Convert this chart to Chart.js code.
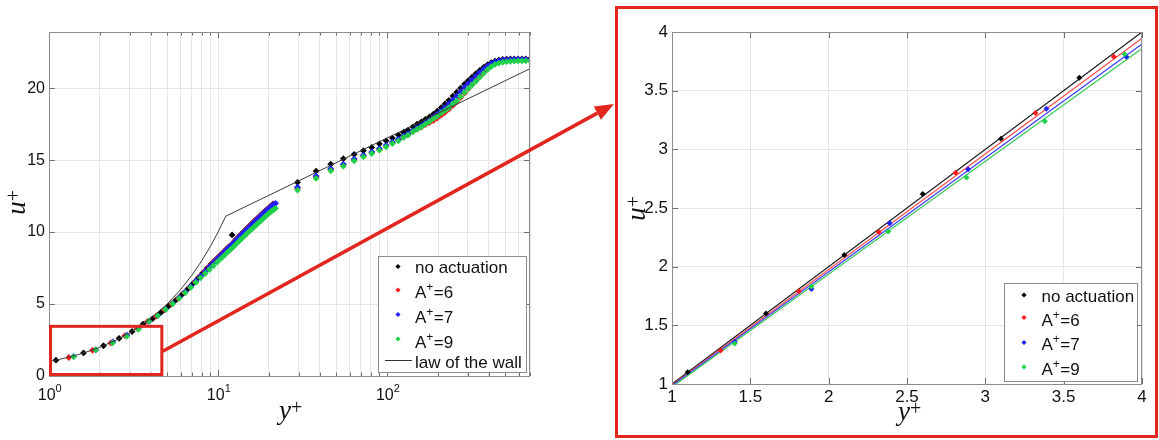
<!DOCTYPE html>
<html><head><meta charset="utf-8">
<script src="https://cdn.jsdelivr.net/npm/chart.js@4.4.1/dist/chart.umd.min.js"></script>
<style>
html,body{margin:0;padding:0;background:#fff;}
body{width:1159px;height:440px;position:relative;overflow:hidden;}
#leftWrap{position:absolute;left:0;top:0;width:616px;height:440px;}
#rightWrap{position:absolute;left:615px;top:6px;width:543px;height:432px;box-sizing:border-box;border:3px solid #e2261e;background:#fff;}
canvas{display:block;}
</style></head><body>
<div id="leftWrap"><canvas id="left" width="616" height="440"></canvas></div>
<div id="rightWrap"><canvas id="right" width="537" height="426"></canvas></div>
<script>
// ---------------- data ----------------
const seriesLabels = ['no actuation', 'A⁺=6', 'A⁺=7', 'A⁺=9'];
const lawLabel = 'law of the wall';
const xTitle = 'y⁺';
const yTitle = 'u⁺';

// tick values
const leftXTicks = [1,2,3,4,5,6,7,8,9,10,20,30,40,50,60,70,80,90,100,200,300,400,500,600,700];
const leftXMajor = [1,10,100];
const leftXLabels = ['10⁰','10¹','10²'];
const leftYTicks = [0,5,10,15,20];
const rightXTicks = [1,1.5,2,2.5,3,3.5,4];
const rightYTicks = [1,1.5,2,2.5,3,3.5,4];

// shared y+ positions of outer measurement points
const midYPlus = [29.5,38,46.4,55.1,63.8,72.4,81.1,90,98.6,107.5,116.6,125,133,142,150.6,159.6,168.5,178];
const outerYPlus = [188,198,209,220,232,245,258,272,287,302,318,335,353,372,392,413,435,458,483,509,536,565,595,627,660,700];

// no actuation
const noActNearY = [1.1,1.6,2.1,2.6,3.1,3.6,4.1,4.6,5.1,5.6,6.1,6.6,7.1,7.6,8.1,8.6,9.1,9.6,10.1,10.6,11.1,11.6,12.1,12.6,13.1,13.6,14.1,14.6,15.1,15.6,16.1,16.6,17.1,17.6,18.1,18.6,19.1,19.6,20.1,20.6,21.1];
const noActNearU = [1.10,1.60,2.10,2.62,3.09,3.61,3.98,4.42,4.85,5.25,5.65,6.03,6.42,6.8,7.15,7.48,7.78,8.05,8.3,8.54,8.77,8.99,9.80,9.42,9.62,9.82,10.0,10.18,10.35,10.52,10.67,10.82,10.96,11.1,11.23,11.36,11.48,11.6,11.72,11.83,11.94];
const noActMidU = [13.45,14.24,14.72,15.1,15.4,15.65,15.88,16.13,16.34,16.53,16.74,16.92,17.08,17.31,17.5,17.66,17.83,18.0];
const noActOuterU = [18.2,18.4,18.65,18.9,19.15,19.45,19.72,20.0,20.28,20.52,20.76,21.0,21.23,21.44,21.62,21.77,21.88,21.95,22.0,22.02,22.03,22.03,22.03,22.03,22.03,22.03];

// A+=6
const a6NearY = [1.31,1.81,2.32,2.81,3.32,3.82,4.32,4.82,5.32,5.82,6.32,6.82,7.32,7.82,8.32,8.82,9.32,9.82,10.32,10.82,11.32,11.82,12.32,12.82,13.32,13.82,14.32,14.82,15.32,15.82,16.32,16.82,17.32,17.82,18.32,18.82,19.32,19.82,20.32,20.82,21.32];
const a6NearU = [1.285,1.79,2.295,2.80,3.31,3.79,4.17,4.6,5.02,5.42,5.81,6.2,6.57,6.93,7.27,7.6,7.89,8.15,8.38,8.62,8.84,9.06,9.28,9.49,9.69,9.88,10.06,10.23,10.4,10.56,10.71,10.86,11.0,11.13,11.26,11.39,11.51,11.63,11.75,11.86,11.96];
const a6MidU = [13.05,13.85,14.35,14.67,15.02,15.29,15.52,15.75,15.98,16.2,16.4,16.6,16.78,16.98,17.15,17.3,17.46,17.6];
const a6OuterU = [17.75,17.92,18.12,18.32,18.55,18.8,19.05,19.35,19.65,19.95,20.25,20.55,20.85,21.12,21.38,21.6,21.75,21.85,21.92,21.95,21.97,21.98,21.98,21.98,21.98,21.98];

// A+=7
const a7NearY = [1.40,1.89,2.39,2.89,3.39,3.90,4.40,4.90,5.40,5.90,6.40,6.90,7.40,7.90,8.40,8.90,9.40,9.90,10.40,10.90,11.40,11.90,12.40,12.90,13.40,13.90,14.40,14.90,15.40,15.90,16.40,16.90,17.40,17.90,18.40,18.90,19.40,19.90,20.40,20.90,21.40,21.90];
const a7NearU = [1.36,1.81,2.37,2.83,3.345,3.79,4.2,4.63,5.05,5.45,5.85,6.23,6.6,6.95,7.28,7.6,7.88,8.14,8.38,8.62,8.84,9.06,9.27,9.48,9.68,9.87,10.05,10.22,10.38,10.54,10.69,10.84,10.98,11.11,11.24,11.37,11.49,11.61,11.73,11.84,11.93,12.0];
const a7MidU = [13.12,13.9,14.4,14.72,15.07,15.34,15.57,15.8,16.03,16.25,16.45,16.66,16.83,17.05,17.23,17.4,17.58,17.76];
const a7OuterU = [18.0,18.2,18.42,18.65,18.9,19.18,19.45,19.75,20.05,20.32,20.58,20.83,21.08,21.32,21.52,21.7,21.82,21.9,21.95,21.97,21.98,21.99,21.99,21.99,21.99,21.99];

// A+=9
const a9NearY = [1.40,1.89,2.38,2.88,3.38,3.89,4.39,4.89,5.39,5.89,6.39,6.89,7.39,7.89,8.39,8.89,9.39,9.89,10.39,10.89,11.39,11.89,12.39,12.89,13.39,13.89,14.39,14.89,15.39,15.89,16.39,16.89,17.39,17.89,18.39,18.89,19.39,19.89,20.39,20.89,21.39,21.89];
const a9NearU = [1.345,1.83,2.30,2.76,3.24,3.81,4.2,4.62,5.02,5.4,5.78,6.15,6.5,6.82,7.12,7.4,7.66,7.92,8.15,8.38,8.6,8.8,9.0,9.2,9.4,9.58,9.75,9.92,10.08,10.23,10.37,10.51,10.65,10.78,10.91,11.04,11.16,11.28,11.39,11.49,11.57,11.65];
const a9MidU = [12.92,13.73,14.26,14.58,14.95,15.23,15.46,15.69,15.92,16.15,16.34,16.57,16.74,16.97,17.15,17.31,17.5,17.68];
const a9OuterU = [17.88,18.05,18.28,18.45,18.65,18.9,19.12,19.42,19.7,19.97,20.22,20.48,20.75,21.02,21.28,21.5,21.65,21.74,21.8,21.84,21.86,21.88,21.89,21.9,21.9,21.9];

// law of the wall
const lawYPlus = [1,1.25,1.5,1.75,2,2.5,3,3.5,4,5,6,7,8,9,10,11.1,700];
const lawUPlus = [1,1.25,1.5,1.75,2,2.5,3,3.5,4,5,6,7,8,9,10,11.1,21.35];

// linear fits in the zoomed view
const fitYPlus = [1,4];
const fitNoActU = [1,4];
const fitA6U = [0.99,3.946];
const fitA7U = [0.985,3.898];
const fitA9U = [0.975,3.86];

// zoom window (red box) extent
const boxYPlus = [1,4.65];
const boxUPlus = [0,3.45];
const leftYMax = 23.9;
const leftXMax = 700;

// ---------------- styles ----------------
const COLORS = ['#000000','#ff1a1a','#1f1fff','#1fd14a'];
const LINECOLORS = ['#1a1a1a','#ff4a4a','#3a3aff','#38c85a'];
const RED = '#e2261e';
const SANS = "'Liberation Sans', Arial, sans-serif";
const SERIF = "'Liberation Serif', 'Times New Roman', serif";
const SUPMAP = {'⁺':'+','⁰':'0','¹':'1','²':'2','³':'3'};

function pts(xs, ys){ return xs.map((x,i)=>({x:x, y:ys[i]})); }
function full(near, nearU, midU, outerU){
  return {x: near.concat(midYPlus, outerYPlus), y: nearU.concat(midU, outerU)};
}
const allSeries = [
  full(noActNearY, noActNearU, noActMidU, noActOuterU),
  full(a6NearY, a6NearU, a6MidU, a6OuterU),
  full(a7NearY, a7NearU, a7MidU, a7OuterU),
  full(a9NearY, a9NearU, a9MidU, a9OuterU)
];

function drawRich(ctx, text, x, y, baseFont, supFont, rise, align){
  const runs = [];
  for (const ch of text){
    const sup = SUPMAP[ch] !== undefined;
    const t = sup ? SUPMAP[ch] : ch;
    if (runs.length && runs[runs.length-1].sup === sup) runs[runs.length-1].t += t;
    else runs.push({t:t, sup:sup});
  }
  let w = 0;
  runs.forEach(r=>{ ctx.font = r.sup?supFont:baseFont; r.w = ctx.measureText(r.t).width + (r.sup?0.5:0); w += r.w; });
  let cx = align === 'center' ? x - w/2 : x;
  ctx.textAlign = 'left'; ctx.textBaseline = 'alphabetic';
  runs.forEach(r=>{ ctx.font = r.sup?supFont:baseFont; ctx.fillText(r.t, cx, r.sup ? y - rise : y); cx += r.w; });
}

function drawMarker(ctx, x, y, r, color){
  ctx.fillStyle = color;
  ctx.beginPath();
  ctx.moveTo(x, y-r); ctx.lineTo(x+r, y); ctx.lineTo(x, y+r); ctx.lineTo(x-r, y); ctx.closePath();
  ctx.fill();
}

function drawFrame(chart, xTicks, yTicks, majorX){
  const {ctx, chartArea:a, scales} = chart;
  ctx.save();
  ctx.strokeStyle = '#6e6e6e'; ctx.lineWidth = 1;
  ctx.beginPath();
  xTicks.forEach(v=>{
    const px = Math.round(scales.x.getPixelForValue(v)) + 0.5;
    const L = majorX(v) ? 6 : 3.5;
    ctx.moveTo(px, a.bottom); ctx.lineTo(px, a.bottom - L);
    ctx.moveTo(px, a.top); ctx.lineTo(px, a.top + L);
  });
  yTicks.forEach(v=>{
    const py = Math.round(scales.y.getPixelForValue(v)) + 0.5;
    ctx.moveTo(a.left, py); ctx.lineTo(a.left + 6, py);
    ctx.moveTo(a.right, py); ctx.lineTo(a.right - 6, py);
  });
  ctx.stroke();
  ctx.strokeStyle = '#8c8c8c';
  ctx.strokeRect(Math.round(a.left)+0.5, Math.round(a.top)+0.5, Math.round(a.right-a.left)-1, Math.round(a.bottom-a.top));
  ctx.restore();
}

function drawLegend(ctx, box, rows, markerX, textX, withLaw, lawRow){
  ctx.save();
  ctx.fillStyle = '#ffffff';
  ctx.fillRect(box.x, box.y, box.w, box.h);
  ctx.strokeStyle = '#8c8c8c'; ctx.lineWidth = 1;
  ctx.strokeRect(box.x+0.5, box.y+0.5, box.w, box.h);
  rows.forEach((r,i)=>{
    drawMarker(ctx, markerX, r.marker, 2.6, COLORS[i]);
    ctx.fillStyle = '#111';
    drawRich(ctx, seriesLabels[i], textX, r.base, '17px '+SANS, '12px '+SANS, 7, 'left');
  });
  if (withLaw){
    ctx.strokeStyle = '#333'; ctx.lineWidth = 1;
    ctx.beginPath(); ctx.moveTo(lawRow.x0, lawRow.line+0.5); ctx.lineTo(lawRow.x1, lawRow.line+0.5); ctx.stroke();
    ctx.fillStyle = '#111';
    drawRich(ctx, lawLabel, textX, lawRow.base, '17px '+SANS, '12px '+SANS, 7, 'left');
  }
  ctx.restore();
}

function drawTitles(ctx, xt, yt){
  ctx.save();
  ctx.fillStyle = '#111';
  drawRich(ctx, xTitle, xt.x, xt.y, 'italic 27px '+SERIF, '20px '+SERIF, 5, 'center');
  ctx.translate(yt.x, yt.y); ctx.rotate(-Math.PI/2);
  drawRich(ctx, yTitle, 0, 0, 'italic 27px '+SERIF, '20px '+SERIF, 5, 'center');
  ctx.restore();
}

function scatterDatasets(seriesList, radius){
  return seriesList.map((s,i)=>({
    label: seriesLabels[i], data: pts(s.x, s.y), showLine:false,
    pointStyle:'rectRot', pointRadius: radius, pointBorderWidth:0,
    backgroundColor: COLORS[i], borderColor: COLORS[i], order: 4 - i
  }));
}

const commonGrid = {color:'#e6e6e6', lineWidth:1, drawTicks:false};

// ---------------- left chart ----------------
const leftDeco = {
  id:'leftDeco',
  afterDraw(chart){
    const {ctx, scales, chartArea} = chart;
    drawFrame(chart, leftXTicks, leftYTicks, v=>leftXMajor.includes(v));
    // decade tick labels with raised exponents
    ctx.save();
    ctx.fillStyle = '#111';
    leftXMajor.forEach((v,k)=>{
      drawRich(ctx, leftXLabels[k], scales.x.getPixelForValue(v) + 1, chartArea.bottom + 24, '16px '+SANS, '11px '+SANS, 8, 'center');
    });
    ctx.restore();
    // zoom box
    const x0 = scales.x.getPixelForValue(boxYPlus[0]), x1 = scales.x.getPixelForValue(boxYPlus[1]);
    const y0 = scales.y.getPixelForValue(boxUPlus[0]), y1 = scales.y.getPixelForValue(boxUPlus[1]);
    ctx.save();
    ctx.strokeStyle = RED; ctx.lineWidth = 3;
    ctx.strokeRect(x0+1.5, y1, x1-x0-1.5, y0-1.5-y1);
    // arrow
    const sx = x1+1, sy = (y0+y1)/2, ex = 614, ey = 104;
    const ang = Math.atan2(ey-sy, ex-sx);
    const hl = 19, hw = 7.5;
    const bx = ex - hl*Math.cos(ang), by = ey - hl*Math.sin(ang);
    ctx.lineWidth = 3.5; ctx.lineCap = 'butt';
    ctx.beginPath(); ctx.moveTo(sx, sy); ctx.lineTo(bx, by); ctx.stroke();
    ctx.fillStyle = RED;
    ctx.beginPath();
    ctx.moveTo(ex, ey);
    ctx.lineTo(bx + hw*Math.sin(ang), by - hw*Math.cos(ang));
    ctx.lineTo(bx - hw*Math.sin(ang), by + hw*Math.cos(ang));
    ctx.closePath(); ctx.fill();
    ctx.restore();
    drawLegend(ctx, {x:378, y:256, w:148, h:116},
      [{marker:266.5, base:273},{marker:290, base:298},{marker:314.5, base:323},{marker:339, base:348}],
      398, 415, true, {x0:385, x1:412, line:360, base:368});
    drawTitles(ctx, {x:291, y:419}, {x:25, y:202});
  }
};

new Chart(document.getElementById('left'), {
  type:'scatter',
  data:{ datasets: [
    {label: lawLabel, data: pts(lawYPlus, lawUPlus), showLine:true, pointRadius:0, borderColor:'#3a3a3a', borderWidth:1, order:0}
  ].concat(scatterDatasets(allSeries, 3.4)) },
  options:{
    responsive:false, animation:false, events:[],
    layout:{padding:{left:0, right:86, top:32, bottom:0}},
    plugins:{legend:{display:false}, tooltip:{enabled:false}},
    scales:{
      x:{type:'logarithmic', min:1, max:leftXMax,
        afterBuildTicks: s=>{ s.ticks = leftXTicks.map(v=>({value:v})); },
        afterFit: s=>{ s.height = 64; },
        grid: commonGrid, border:{display:false},
        ticks:{display:false, autoSkip:false, maxRotation:0, minRotation:0}},
      y:{type:'linear', min:0, max:leftYMax,
        afterBuildTicks: s=>{ s.ticks = leftYTicks.map(v=>({value:v})); },
        afterFit: s=>{ s.width = 49; },
        grid: commonGrid, border:{display:false},
        ticks:{padding:4, color:'#111', font:{family:SANS, size:16}, callback: v=>String(v)}}
    }
  },
  plugins:[leftDeco]
});

// ---------------- right chart ----------------
const fits = [fitNoActU, fitA6U, fitA7U, fitA9U];
const zoomSeries = allSeries.map(s=>{
  const xs = [], ys = [];
  s.x.forEach((x,i)=>{ if (x >= 1 && x <= 4 && s.y[i] >= 1 && s.y[i] <= 4){ xs.push(x); ys.push(s.y[i]); } });
  return {x:xs, y:ys};
});
const rightDeco = {
  id:'rightDeco',
  afterDraw(chart){
    const {ctx} = chart;
    drawFrame(chart, rightXTicks, rightYTicks, ()=>true);
    drawLegend(ctx, {x:386, y:274, w:133, h:98},
      [{marker:286, base:292.5},{marker:308.5, base:316.5},{marker:333.5, base:341},{marker:358, base:366}],
      406, 423.5, false);
    drawTitles(ctx, {x:292, y:411}, {x:27, y:199});
  }
};

new Chart(document.getElementById('right'), {
  type:'scatter',
  data:{ datasets: fits.map((f,i)=>({
      label: seriesLabels[i] + ' fit', data: pts(fitYPlus, f), showLine:true, pointRadius:0,
      borderColor: LINECOLORS[i], borderWidth:1.2, order: 10 + (4-i)
    })).concat(scatterDatasets(zoomSeries, 3)) },
  options:{
    responsive:false, animation:false, events:[],
    layout:{padding:{left:0, right:13, top:23, bottom:0}},
    plugins:{legend:{display:false}, tooltip:{enabled:false}},
    scales:{
      x:{type:'linear', min:1, max:4,
        afterBuildTicks: s=>{ s.ticks = rightXTicks.map(v=>({value:v})); },
        afterFit: s=>{ s.height = 51; },
        grid: commonGrid, border:{display:false},
        ticks:{autoSkip:false, maxRotation:0, minRotation:0, padding:3, color:'#111', font:{family:SANS, size:17}, callback: v=>String(v)}},
      y:{type:'linear', min:1, max:4,
        afterBuildTicks: s=>{ s.ticks = rightYTicks.map(v=>({value:v})); },
        afterFit: s=>{ s.width = 54; },
        grid: commonGrid, border:{display:false},
        ticks:{padding:4, color:'#111', font:{family:SANS, size:17}, callback: v=>String(v)}}
    }
  },
  plugins:[rightDeco]
});
</script>
</body></html>
